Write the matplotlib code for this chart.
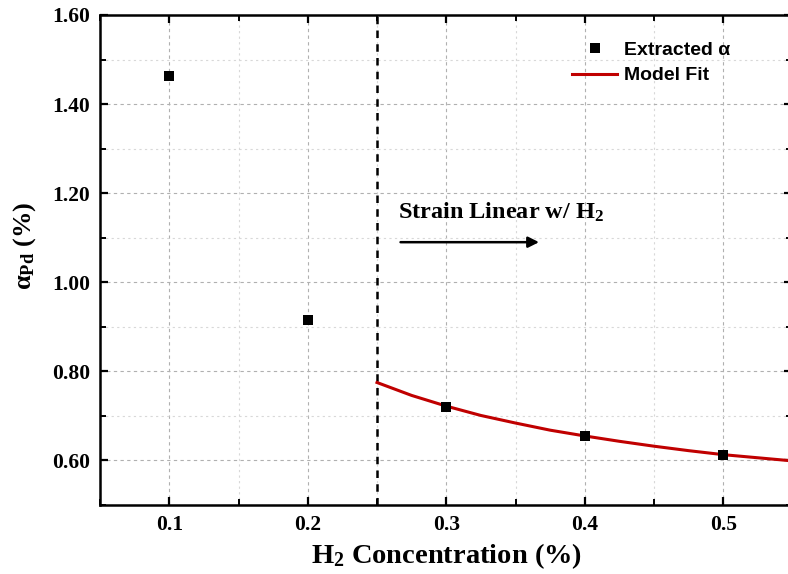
"""Alpha_Pd vs H2 concentration with model fit."""

import matplotlib
matplotlib.use('Agg')
import matplotlib.pyplot as plt
from matplotlib.ticker import MultipleLocator, FormatStrFormatter

plt.rcParams['mathtext.fontset'] = 'custom'
plt.rcParams['mathtext.rm'] = 'Liberation Serif'
plt.rcParams['mathtext.bf'] = 'Liberation Serif:bold'
plt.rcParams['mathtext.it'] = 'Liberation Serif:italic'

# Extracted alpha values
h2_conc = [0.1, 0.2, 0.3, 0.4, 0.5]
alpha_pd = [1.463, 0.915, 0.721, 0.654, 0.613]

# Model fit curve
fit_x = [0.25, 0.275, 0.30, 0.325, 0.35, 0.375, 0.40, 0.425, 0.45, 0.475, 0.50, 0.525, 0.55]
fit_y = [0.775, 0.746, 0.722, 0.701, 0.684, 0.668, 0.655, 0.643, 0.632, 0.622, 0.613, 0.606, 0.599]

threshold = 0.25

serif = ['Liberation Serif', 'DejaVu Serif']
sans = ['Liberation Sans', 'DejaVu Sans']

fig = plt.figure(figsize=(7.88, 5.74), dpi=100)
ax = fig.add_axes([100 / 788, 69 / 574, 692.5 / 788, 490 / 574])

ax.plot(fit_x, fit_y, color='#c00000', linewidth=2.2, label='Model Fit', zorder=3)
ax.plot(h2_conc, alpha_pd, linestyle='none', marker='s', markersize=7.4, markeredgewidth=0,
        color='black', label='Extracted α', zorder=4)
ax.axvline(threshold, color='black', linestyle=(0, (3, 2.5)), linewidth=1.8, zorder=2)

ax.annotate('', xy=(0.369, 1.09), xytext=(0.265, 1.09),
            arrowprops=dict(arrowstyle='-|>', color='black', lw=1.8, mutation_scale=16))
ax.text(0.265, 1.13, r'Strain Linear w/ H$_\mathbf{2}$', fontsize=17.5, fontweight='bold',
        family=serif, va='bottom', ha='left')

ax.set_xlim(0.05, 0.55)
ax.set_ylim(0.5, 1.6)
ax.xaxis.set_major_locator(MultipleLocator(0.1))
ax.xaxis.set_minor_locator(MultipleLocator(0.05))
ax.yaxis.set_major_locator(MultipleLocator(0.2))
ax.yaxis.set_minor_locator(MultipleLocator(0.1))
ax.xaxis.set_major_formatter(FormatStrFormatter('%.1f'))
ax.yaxis.set_major_formatter(FormatStrFormatter('%.2f'))

ax.grid(True, which='major', color='#b0b0b0', linestyle=(0, (3, 3)), linewidth=0.8)
ax.grid(True, which='minor', color='#d8d8d8', linestyle=(0, (2, 3)), linewidth=0.8)
ax.set_axisbelow(True)

ax.tick_params(which='major', direction='in', length=6, width=1.6, top=True, right=True,
               labelsize=15.5, pad=7)
ax.tick_params(which='minor', direction='in', length=4, width=1.4, top=True, right=True)
for lbl in ax.get_xticklabels() + ax.get_yticklabels():
    lbl.set_family(serif)
    lbl.set_fontweight('bold')

for sp in ax.spines.values():
    sp.set_linewidth(1.8)

ax.set_xlabel(r'H$_\mathbf{2}$ Concentration (%)', fontsize=20.5, fontweight='bold',
              family=serif, labelpad=5)
ax.set_ylabel(r'α$_\mathbf{Pd}$ (%)', fontsize=19, fontweight='bold',
              family=serif, labelpad=12)
ax.yaxis.set_label_coords(-0.09, 0.53)

handles, labels = ax.get_legend_handles_labels()
leg = ax.legend(handles[::-1], labels[::-1], loc='upper right', bbox_to_anchor=(0.935, 0.982),
                frameon=False, prop={'family': sans, 'weight': 'bold', 'size': 14},
                handlelength=2.3, handletextpad=0.35, labelspacing=0.4)

fig.savefig('out.png', dpi=100)
